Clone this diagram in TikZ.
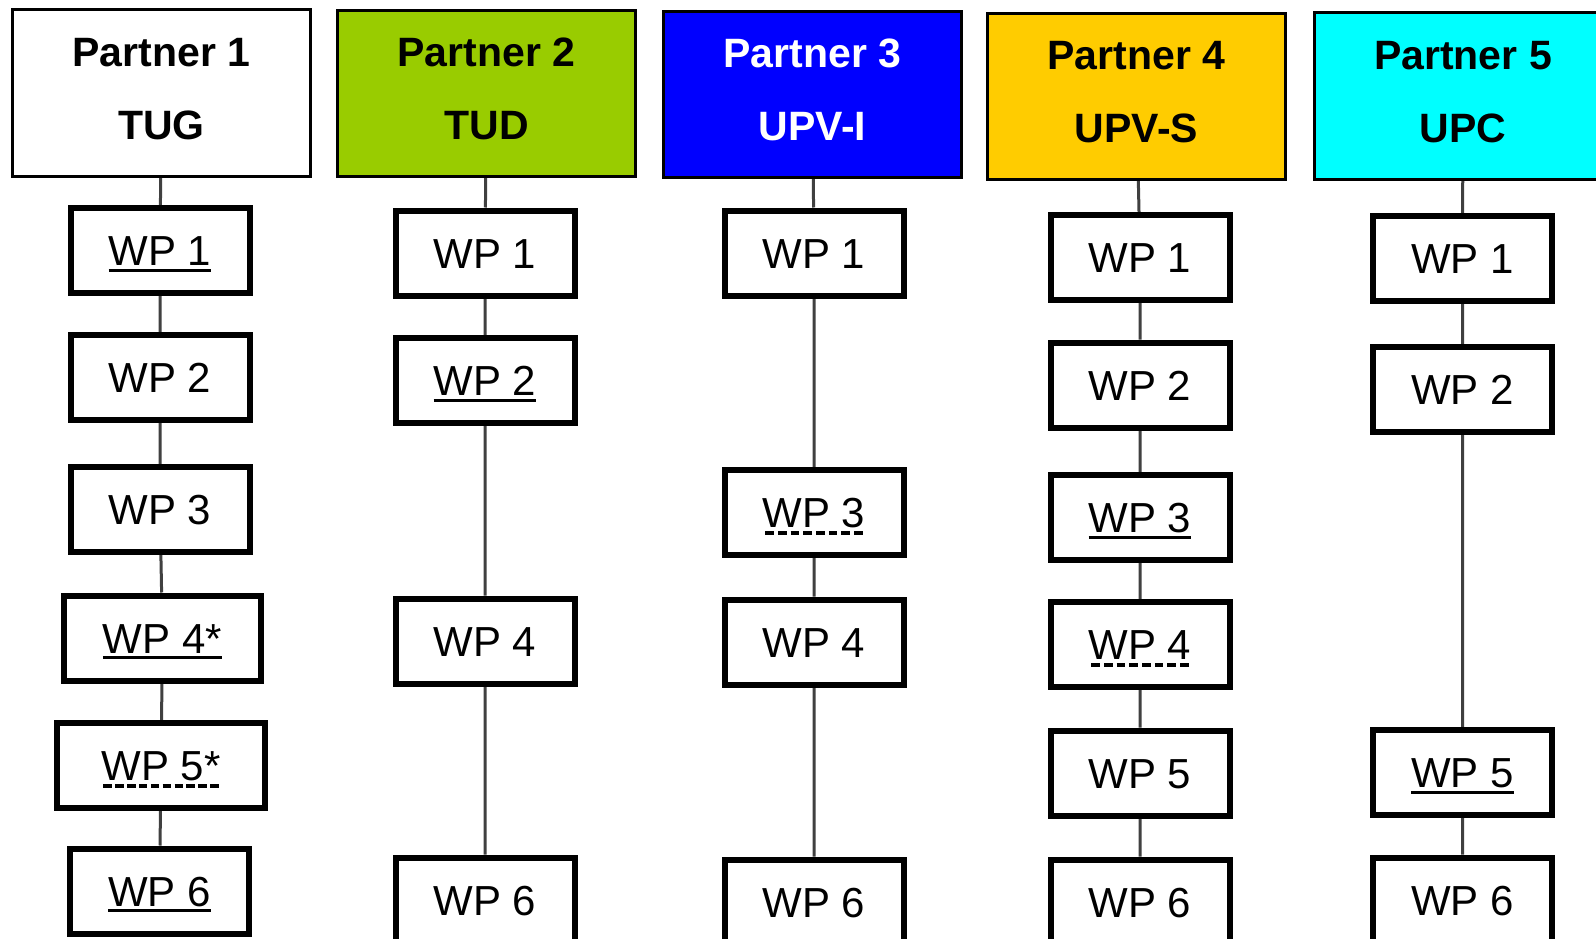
\documentclass[tikz,border=0pt]{standalone}
\usepackage{fontspec}
\setmainfont{Liberation Sans}
\usetikzlibrary{backgrounds}

\definecolor{tudgreen}{HTML}{99CC00}
\definecolor{upviblue}{HTML}{0000FF}
\definecolor{upvsyellow}{HTML}{FFCC00}
\definecolor{upccyan}{HTML}{00FFFF}

\newsavebox{\wpbox}
\newcommand{\solidul}[1]{\sbox\wpbox{#1}\rlap{\usebox\wpbox}\rule[-6pt]{\wd\wpbox}{3pt}}
\newcommand{\dashul}[1]{\sbox\wpbox{#1}\rlap{\usebox\wpbox}%
  \hbox to \wd\wpbox{\xleaders\hbox{\kern1.5pt\rule[-7pt]{8.5pt}{4pt}\kern1.5pt}\hfil}}

\begin{document}
\begin{tikzpicture}[
  x=1pt, y=-1pt,
  partner/.style={draw, line width=2.8pt, minimum width=297.5pt,
                  minimum height=166.5pt, align=center, inner sep=0pt,
                  font=\fontsize{41}{73}\selectfont\bfseries,
                  execute at end node={\rule[-9pt]{0pt}{0pt}}},
  wp/.style={draw, fill=white, line width=6pt, minimum width=179pt,
             minimum height=85pt, inner sep=0pt,
             font=\fontsize{42}{50}\selectfont,
             text height=30pt, text depth=0pt},
  link/.style={line width=3pt, black!75},
]
\useasboundingbox (0,0) rectangle (1596,939);
\clip (0,0) rectangle (1596,939);

% ── Partner 1 : TUG ───────────────────────────────────────────────────────────
\node[partner] (tug) at (161.5,93) {Partner 1\\TUG};
\node[wp] (tug1) at (160,250.5) {\solidul{WP 1}};
\node[wp] (tug2) at (160,377.5) {WP 2};
\node[wp] (tug3) at (160,509.5) {WP 3};
\node[wp, minimum width=197pt] (tug4) at (162.5,638) {\solidul{WP 4*}};
\node[wp, minimum width=208pt] (tug5) at (161,765.5) {\dashul{WP 5*}};
\node[wp] (tug6) at (159.5,891) {\solidul{WP 6}};

% ── Partner 2 : TUD ───────────────────────────────────────────────────────────
\node[partner, fill=tudgreen] (tud) at (486.5,93.5) {Partner 2\\TUD};
\node[wp] (tud1) at (485,253) {WP 1};
\node[wp] (tud2) at (485,380.5) {\solidul{WP 2}};
\node[wp] (tud4) at (485,641) {WP 4};
\node[wp] (tud6) at (485,900) {WP 6};

% ── Partner 3 : UPV-I ─────────────────────────────────────────────────────────
\node[partner, fill=upviblue, text=white] (upvi) at (812.5,94.5) {Partner 3\\UPV-I};
\node[wp] (upvi1) at (814,253) {WP 1};
\node[wp] (upvi3) at (814,512.5) {\dashul{WP 3}};
\node[wp] (upvi4) at (814,642) {WP 4};
\node[wp] (upvi6) at (814,902) {WP 6};

% ── Partner 4 : UPV-S ─────────────────────────────────────────────────────────
\node[partner, fill=upvsyellow] (upvs) at (1136.5,96.5) {Partner 4\\UPV-S};
\node[wp] (upvs1) at (1140,257.5) {WP 1};
\node[wp] (upvs2) at (1140,385) {WP 2};
\node[wp] (upvs3) at (1140,517.5) {\solidul{WP 3}};
\node[wp] (upvs4) at (1140,644.5) {\dashul{WP 4}};
\node[wp] (upvs5) at (1140,773) {WP 5};
\node[wp] (upvs6) at (1140,902) {WP 6};

% ── Partner 5 : UPC ───────────────────────────────────────────────────────────
\node[partner, fill=upccyan] (upc) at (1463,96) {Partner 5\\UPC};
\node[wp] (upc1) at (1462.5,258.5) {WP 1};
\node[wp] (upc2) at (1462.5,389.5) {WP 2};
\node[wp] (upc5) at (1462.5,772.5) {\solidul{WP 5}};
\node[wp] (upc6) at (1462.5,900) {WP 6};

% ── Column lines ──────────────────────────────────────────────────────────────
\begin{scope}[on background layer]
  \fill[white] (0,0) rectangle (1596,939);
  \draw[link] (tug) -- (tug1) -- (tug2) -- (tug3) -- (tug4) -- (tug5) -- (tug6);
  \draw[link] (tud) -- (tud1) -- (tud2) -- (tud4) -- (tud6);
  \draw[link] (upvi) -- (upvi1) -- (upvi3) -- (upvi4) -- (upvi6);
  \draw[link] (upvs) -- (upvs1) -- (upvs2) -- (upvs3) -- (upvs4) -- (upvs5) -- (upvs6);
  \draw[link] (upc) -- (upc1) -- (upc2) -- (upc5) -- (upc6);
\end{scope}

\end{tikzpicture}
\end{document}
